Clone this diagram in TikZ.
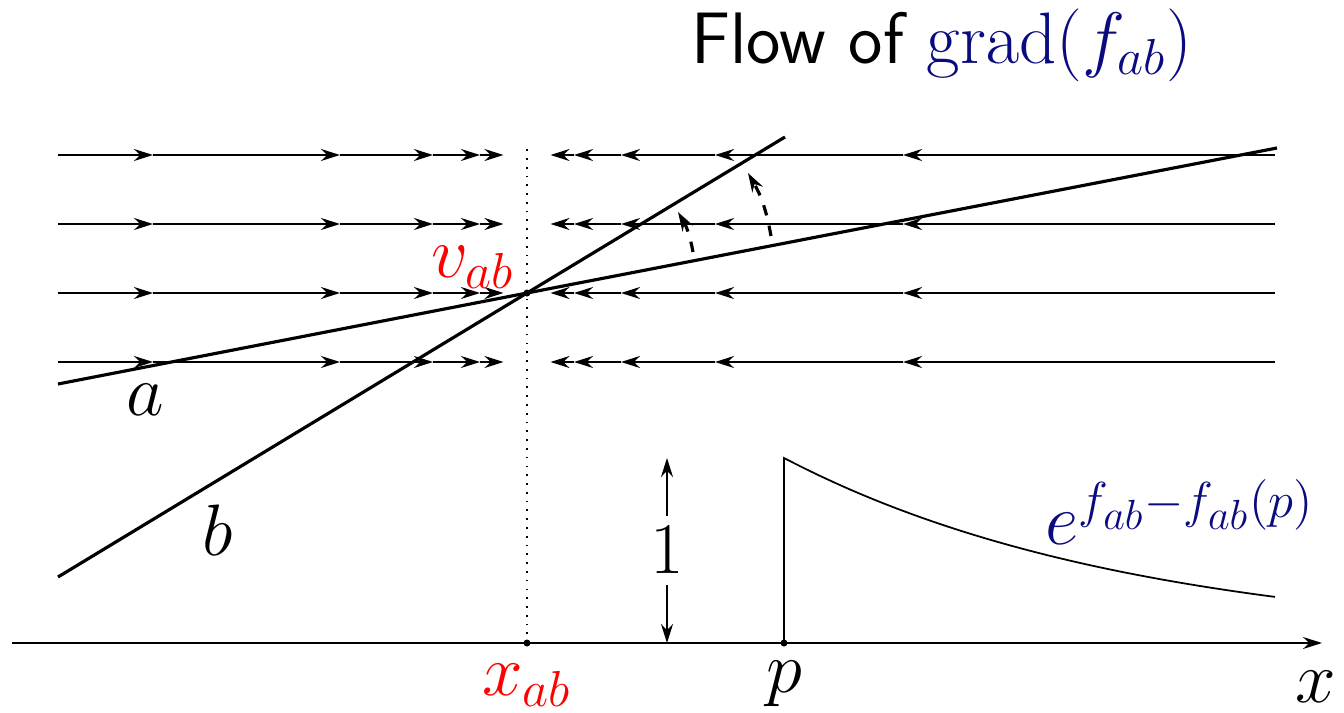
\documentclass[tikz,border=0pt]{standalone}
\usepackage{amsmath,amssymb}
\usetikzlibrary{arrows.meta}
\definecolor{gradnavy}{HTML}{0B0B80}
\definecolor{ptred}{HTML}{FF0000}

\begin{document}
\begin{tikzpicture}[>={Stealth[length=1.9mm, width=1.2mm]}]

% Frame of the page
\useasboundingbox (0,0) rectangle (13.44,7.12);

% Title
\node[font=\huge] (title) at (9.42,6.67)
  {\sffamily Flow of \textcolor{gradnavy}{$\mathrm{grad}(f_{ab})$}};

% Key points
\coordinate (vab) at (5.27,4.19);
\coordinate (xab) at (5.27,0.69);
\coordinate (p) at (7.84,0.69);

% Axis
\draw[line width=0.5pt, ->] (0.12,0.69) -- (13.22,0.69);
\draw[line width=0.5pt, dotted] (xab) -- (5.27,5.69);

% --- Flow lines, halving steps towards x_ab ---
\foreach \y in {5.57,4.88,4.19,3.50} {
  \foreach \a/\b in {0.58/1.53, 1.53/3.40, 3.40/4.33, 4.33/4.80, 4.80/5.035}
    \draw[line width=0.5pt, ->] (\a,\y) -- (\b,\y);
  \foreach \a/\b in {12.75/9.03, 9.03/7.15, 7.15/6.21, 6.21/5.74, 5.74/5.505}
    \draw[line width=0.5pt, ->] (\a,\y) -- (\b,\y);
}

% --- Lines a and b through v_ab ---
\draw[line width=0.9pt] (0.58,3.28) -- (vab) -- (12.77,5.64);
\draw[line width=0.9pt] (0.58,1.35) -- (vab) -- (7.85,5.75);
\node[font=\huge] (alabel) at (1.45,3.12) {$a$};
\node[font=\huge] (blabel) at (2.18,1.82) {$b$};

% Rotation of a towards b
\coordinate (rotA1) at (6.93,4.60);
\coordinate (rotB1) at (6.78,5.00);
\coordinate (rotA2) at (7.71,4.76);
\coordinate (rotB2) at (7.48,5.39);
\draw[line width=0.9pt, dashed, ->] (rotA1) to[bend right=10] (rotB1);
\draw[line width=0.9pt, dashed, ->] (rotA2) to[bend right=10] (rotB2);

% Points
\fill (vab) circle (0.035);
\fill (xab) circle (0.035);
\fill (p) circle (0.035);
\node[text=ptred, font=\huge] (vablabel) at (4.73,4.45) {$v_{ab}$};
\node[text=ptred, font=\huge] (xablabel) at (5.27,0.27) {$x_{ab}$};
\node[font=\huge] (plabel) at (7.84,0.28) {$p$};
\node[font=\huge] (xlabel) at (13.16,0.25) {$x$};

% --- Unit height and decaying exponential ---
\draw[line width=0.5pt, <->] (6.67,0.69) -- (6.67,2.54)
  node[midway, fill=white, font=\huge, inner sep=3pt] (one) {$1$};
\draw[line width=0.5pt] (p) -- (7.84,2.54)
  -- plot[domain=7.84:12.75, samples=40] (\x, {0.69+1.85*exp(-0.283*(\x-7.84))});
\node[text=gradnavy, font=\huge] (explabel) at (11.80,2.00) {$e^{f_{ab}-f_{ab}(p)}$};

\end{tikzpicture}
\end{document}
